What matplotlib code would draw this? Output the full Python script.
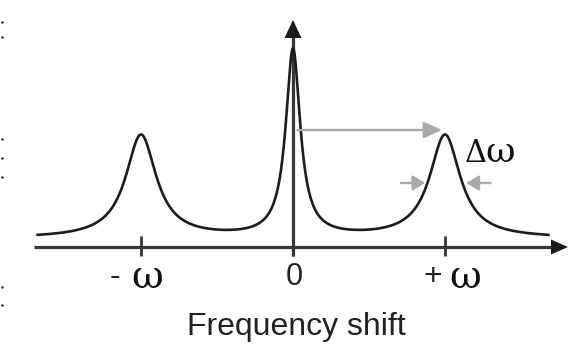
import numpy as np
import matplotlib
matplotlib.use('Agg')
import matplotlib.pyplot as plt
from matplotlib.patches import Polygon

# ---- data ----
peak_centers = [-1.0, 0.0, 1.0]        # in units of omega
peak_heights = [1.03, 1.87, 1.03]
peak_widths = [0.122, 0.058, 0.122]    # Lorentzian half widths
baseline = 0.085
x_range = [-1.68, 1.68]
tick_positions = [-1.0, 0.0, 1.0]
tick_signs = ['-', '', '+']
tick_symbols = ['ω', '0', 'ω']
xlabel = 'Frequency shift'
width_label = ['Δ', 'ω']
left_dot_y = [22, 37, 139, 158, 177, 287, 305]   # stray marks on the left edge (pixel rows)

# ---- figure: 1 x-unit = 152 px, 1 y-unit = 100 px ----
W, H = 577, 347
X0, Y0, SX, SY = 293, 247, 152.0, 100.0
fig = plt.figure(figsize=(W / 100, H / 100), dpi=100)
ax = fig.add_axes([0, 0, 1, 1])
ax.set_xlim(-X0 / SX, (W - X0) / SX)
ax.set_ylim(-(H - Y0) / SY, Y0 / SY)
ax.axis('off')


def px(xp):
    return (xp - X0) / SX


def py(yp):
    return (Y0 - yp) / SY


axis_col = '#363636'
# x axis with arrow
ax.plot([px(34), px(553)], [0, 0], color=axis_col, lw=2.3, solid_capstyle='butt', zorder=2)
ax.add_patch(Polygon([(px(568), 0), (px(551), py(239.5)), (px(551), py(254.5))],
                     closed=True, color='#1a1a1a', lw=0, zorder=3))
# y axis with arrow
ax.plot([0, 0], [py(256), py(36)], color=axis_col, lw=2.3, solid_capstyle='butt', zorder=2)
ax.add_patch(Polygon([(0, py(20)), (px(284.5), py(38)), (px(301.5), py(38))],
                     closed=True, color='#1a1a1a', lw=0, zorder=3))
# ticks
for t in tick_positions:
    ax.plot([t, t], [py(236), py(256)], color=axis_col, lw=2.0, solid_capstyle='butt', zorder=2)

# spectrum
x = np.linspace(x_range[0], x_range[1], 1500)
y = np.full_like(x, baseline)
for c, h, g in zip(peak_centers, peak_heights, peak_widths):
    y += h / (1 + ((x - c) / g) ** 2)
ax.plot(x, y, color='#1c1c1c', lw=1.9, zorder=4)

# gray arrows
gray = '#a9a9a9'
ax.annotate('', xy=(peak_centers[2] - 0.02, py(130)), xytext=(0.03, py(130)),
            arrowprops=dict(arrowstyle='-|>,head_length=0.55,head_width=0.25', color=gray,
                            lw=1.7, mutation_scale=20, shrinkA=0, shrinkB=0), zorder=5)
c = peak_centers[2]
ax.annotate('', xy=(c - 0.13, py(183)), xytext=(c - 0.29, py(183)),
            arrowprops=dict(arrowstyle='-|>,head_length=0.5,head_width=0.3', color=gray,
                            lw=1.7, mutation_scale=15, shrinkA=0, shrinkB=0), zorder=5)
ax.annotate('', xy=(c + 0.14, py(183)), xytext=(c + 0.30, py(183)),
            arrowprops=dict(arrowstyle='-|>,head_length=0.5,head_width=0.3', color=gray,
                            lw=1.7, mutation_scale=15, shrinkA=0, shrinkB=0), zorder=5)

# tick labels
sans = ['Liberation Sans', 'DejaVu Sans']
serif = ['DejaVu Serif', 'Liberation Serif']
txt_col = '#222222'
sign_dx = {'-': -26, '+': -12}
sym_dx = {'-': 6, '+': 20, '': 1.5}
for t, s, sym in zip(tick_positions, tick_signs, tick_symbols):
    if s:
        ax.text(t + sign_dx[s] / SX, py(285.5), s, family=sans, fontsize=23,
                ha='center', va='baseline', color=txt_col)
        ax.text(t + sym_dx[s] / SX, py(288), sym, family=serif, fontsize=28,
                ha='center', va='baseline', color='#111111')
    else:
        ax.text(t + sym_dx[s] / SX, py(285), sym, family=sans, fontsize=22,
                ha='center', va='baseline', color=txt_col)

ax.text(px(296), py(335), xlabel, family=sans, fontsize=23, ha='center', va='baseline',
        color=txt_col)
ax.text(px(476), py(162), width_label[0], family=serif, fontsize=22, ha='center',
        va='baseline', color='#111111')
ax.text(px(500), py(162), width_label[1], family=serif, fontsize=26, ha='center',
        va='baseline', color='#111111')

# stray dots on the left edge
ax.scatter([px(2)] * len(left_dot_y), [py(v) for v in left_dot_y], s=3, color='#222222',
           lw=0, zorder=1)

fig.savefig('out.png', dpi=100)
